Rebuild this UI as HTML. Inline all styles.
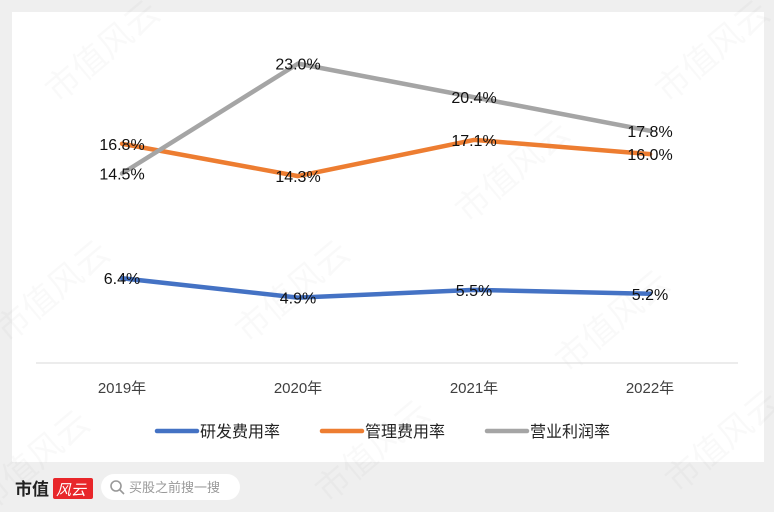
<!DOCTYPE html>
<html><head><meta charset="utf-8"><style>
body{margin:0;width:774px;height:512px;background:#efefef;overflow:hidden;font-family:"Liberation Sans","Noto Sans CJK SC",sans-serif}
#card{position:absolute;left:12px;top:12px;width:752px;height:450px;background:#fff}
svg{position:absolute;left:0;top:0}
</style></head><body>
<div id="card"></div>
<svg id="chart" width="774" height="512"></svg>
<script>
const categories=["2019年","2020年","2021年","2022年"];
const rd=[6.4,4.9,5.5,5.2];
const mgmt=[16.8,14.3,17.1,16.0];
const profit=[14.5,23.0,20.4,17.8];
const seriesNames=["研发费用率","管理费用率","营业利润率"];
const colors=["#4472c4","#ed7d31","#a5a5a5"];
const NS="http://www.w3.org/2000/svg";
const svg=document.getElementById('chart');
function x(i){return 122+i*176;}
function y(v){return 361-v*12.93;}
function mk(t,a){const e=document.createElementNS(NS,t);for(const k in a)e.setAttribute(k,a[k]);svg.appendChild(e);return e;}
[[110,60],[300,300],[520,180],[720,60],[60,300],[620,330],[380,460],[40,470],[730,450]].forEach(p=>{
 const w=mk('text',{x:p[0],y:p[1],'font-size':34,fill:'#000','fill-opacity':0.025,transform:`rotate(-40 ${p[0]} ${p[1]})`,'text-anchor':'middle'});
 w.textContent='市值风云';
 
 
});
const ax=mk('line',{x1:36,x2:738,y1:363,y2:363,stroke:'#d9d9d9','stroke-width':1});


categories.forEach((c,i)=>{
 const t=mk('text',{x:x(i),y:393,'font-size':15,'text-anchor':'middle',fill:'#404040'});
 t.textContent=c;
 
 
});
[rd,mgmt,profit].forEach((s,k)=>{
 const p=mk('polyline',{points:s.map((v,i)=>x(i)+','+y(v)).join(' '),fill:'none',stroke:colors[k],'stroke-width':4.5,'stroke-linecap':'round','stroke-linejoin':'round'});
 
 
});
[rd,mgmt,profit].forEach((s,k)=>{
 s.forEach((v,i)=>{
  const t=mk('text',{x:x(i),y:y(v)+6,'font-size':16,'text-anchor':'middle',fill:'#111'});
  t.textContent=v.toFixed(1)+'%';
  
  
 });
});
const lx=[157,322,487];
seriesNames.forEach((n,k)=>{
 const l=mk('line',{x1:lx[k],x2:lx[k]+40,y1:431,y2:431,stroke:colors[k],'stroke-width':4.5,'stroke-linecap':'round'});
 
 
 const t=mk('text',{x:lx[k]+43,y:437,'font-size':16,fill:'#222'});
 t.textContent=n;
 
 
});
const b=mk('text',{x:15,y:495,'font-size':17,'font-weight':'bold',fill:'#222'});
b.textContent='市值';


const r=mk('rect',{x:53,y:478,width:40,height:21,fill:'#e8262a',rx:2});


const rt=mk('text',{x:56,y:495,'font-size':15,'font-style':'italic',fill:'#fff'});
rt.textContent='风云';


const sb=mk('rect',{x:101,y:474,width:139,height:26,rx:13,fill:'#fff'});


const ic=mk('circle',{cx:116,cy:486,r:5,fill:'none',stroke:'#999','stroke-width':1.6});


mk('line',{x1:120,y1:490,x2:124,y2:494,stroke:'#999','stroke-width':1.6});
const st=mk('text',{x:129,y:492,'font-size':13,fill:'#999'});
st.textContent='买股之前搜一搜';


</script>
</body></html>
